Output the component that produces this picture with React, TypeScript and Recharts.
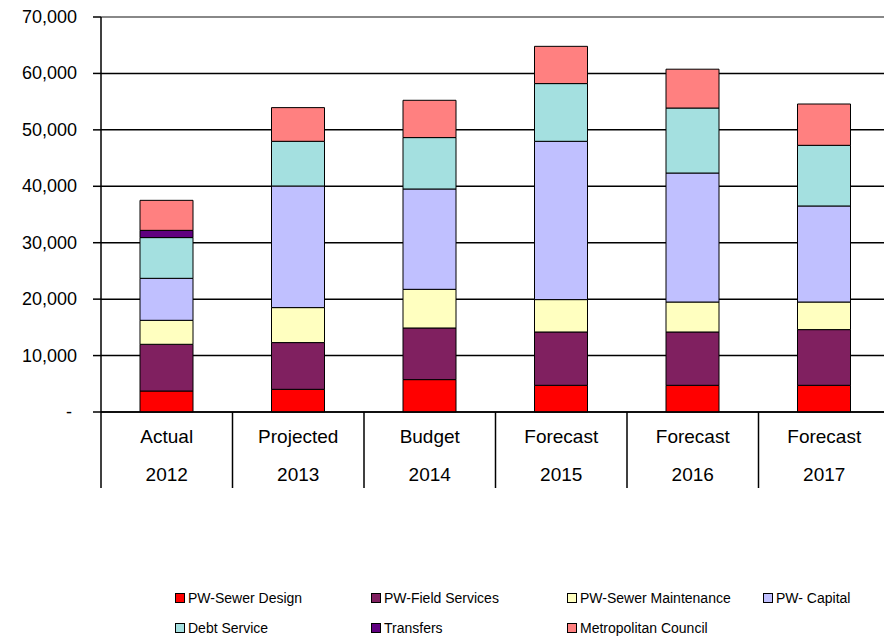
import { BarChart, Bar, XAxis, YAxis, CartesianGrid, ReferenceLine } from 'recharts';

const LABELS = ['Actual', 'Projected', 'Budget', 'Forecast', 'Forecast', 'Forecast'];
const YEARS = ['2012', '2013', '2014', '2015', '2016', '2017'];

const SEWER_DESIGN = [3720, 4020, 5740, 4730, 4730, 4730];
const FIELD_SERVICES = [8280, 8280, 9150, 9450, 9450, 9870];
const SEWER_MAINT = [4250, 6200, 6850, 5740, 5310, 4890];
const CAPITAL = [7440, 21550, 17780, 28050, 22860, 17020];
const DEBT_SERVICE = [7220, 7920, 9110, 10230, 11520, 10750];
const TRANSFERS = [1280, 0, 0, 0, 0, 0];
const METRO_COUNCIL = [5320, 5970, 6610, 6600, 6880, 7320];

const Y_TICKS = [0, 10000, 20000, 30000, 40000, 50000, 60000, 70000];

const SERIES = [
  { key: 'design', name: 'PW-Sewer Design', values: SEWER_DESIGN, color: '#ff0000' },
  { key: 'field', name: 'PW-Field Services', values: FIELD_SERVICES, color: '#802060' },
  { key: 'maint', name: 'PW-Sewer Maintenance', values: SEWER_MAINT, color: '#ffffc0' },
  { key: 'capital', name: 'PW- Capital', values: CAPITAL, color: '#c0c0ff' },
  { key: 'debt', name: 'Debt Service', values: DEBT_SERVICE, color: '#a4e0e0' },
  { key: 'transfers', name: 'Transfers', values: TRANSFERS, color: '#600080' },
  { key: 'metro', name: 'Metropolitan Council', values: METRO_COUNCIL, color: '#ff8080' },
];

const data = LABELS.map((label, i) => {
  const row: any = { cat: `${label}|${YEARS[i]}` };
  SERIES.forEach(s => { row[s.key] = s.values[i]; });
  return row;
});

const CHART_W = 890;
const CHART_H = 638;
const Y_AXIS_W = 101;
const BAND = (CHART_W - Y_AXIS_W) / LABELS.length;
const FONT = '"Liberation Sans", Arial, sans-serif';

const YTick = ({ x, y, payload }: any) => (
  <text x={payload.value === 0 ? x - 5 : x} y={y} textAnchor="end" dominantBaseline="central"
    fontSize={18} fontFamily={FONT} fill="#000">
    {payload.value === 0 ? '-' : payload.value.toLocaleString('en-US')}
  </text>
);

const XTick = ({ x, y, payload, index }: any) => {
  const [label, year] = String(payload.value).split('|');
  return (
    <g>
      {index === 0 && <line x1={x - BAND / 2} x2={x - BAND / 2} y1={y} y2={y + 76} stroke="#000" strokeWidth={1.5} />}
      <line x1={x + BAND / 2} x2={x + BAND / 2} y1={y} y2={y + 76} stroke="#000" strokeWidth={1.5} />
      <text x={x} y={y + 31} textAnchor="middle" fontSize={19} fontFamily={FONT} fill="#000">{label}</text>
      <text x={x} y={y + 69} textAnchor="middle" fontSize={19} fontFamily={FONT} fill="#000">{year}</text>
    </g>
  );
};

export default function App() {
  return (
    <div style={{ position: 'absolute', left: 0, top: 0, width: 884, height: 638, overflow: 'hidden', background: '#fff' }}>
      <BarChart width={CHART_W} height={CHART_H} data={data}
        margin={{ top: 17, right: 0, left: 0, bottom: 150 }} barSize={53}>
        <CartesianGrid vertical={false} stroke="#000" strokeWidth={1.5} />
        <XAxis dataKey="cat" tick={<XTick />} tickLine={false} tickSize={0} tickMargin={0}
          height={76} interval={0} axisLine={{ stroke: '#000', strokeWidth: 1.5 }} />
        <YAxis domain={[0, 70000]} ticks={Y_TICKS} width={Y_AXIS_W} tick={<YTick />}
          tickSize={8} tickMargin={16} tickLine={{ stroke: '#000', strokeWidth: 1.5 }}
          axisLine={{ stroke: '#000', strokeWidth: 1.5 }} interval={0} />
        {SERIES.map(s => (
          <Bar key={s.key} dataKey={s.key} name={s.name} stackId="a" fill={s.color}
            stroke="#000" strokeWidth={1} isAnimationActive={false} />
        ))}
        <ReferenceLine y={70000} stroke="#888" strokeWidth={2} />
      </BarChart>
      <div style={{ position: 'absolute', left: 175, top: 588, width: 790, display: 'grid',
        gridTemplateColumns: 'repeat(4, 196px)', rowGap: 11, fontFamily: FONT, fontSize: 14 }}>
        {SERIES.map(s => (
          <div key={s.key} style={{ display: 'flex', alignItems: 'center', height: 19, whiteSpace: 'nowrap' }}>
            <span style={{ width: 8, height: 8, background: s.color, border: '1.5px solid #000', marginRight: 3 }} />
            {s.name}
          </div>
        ))}
      </div>
    </div>
  );
}
